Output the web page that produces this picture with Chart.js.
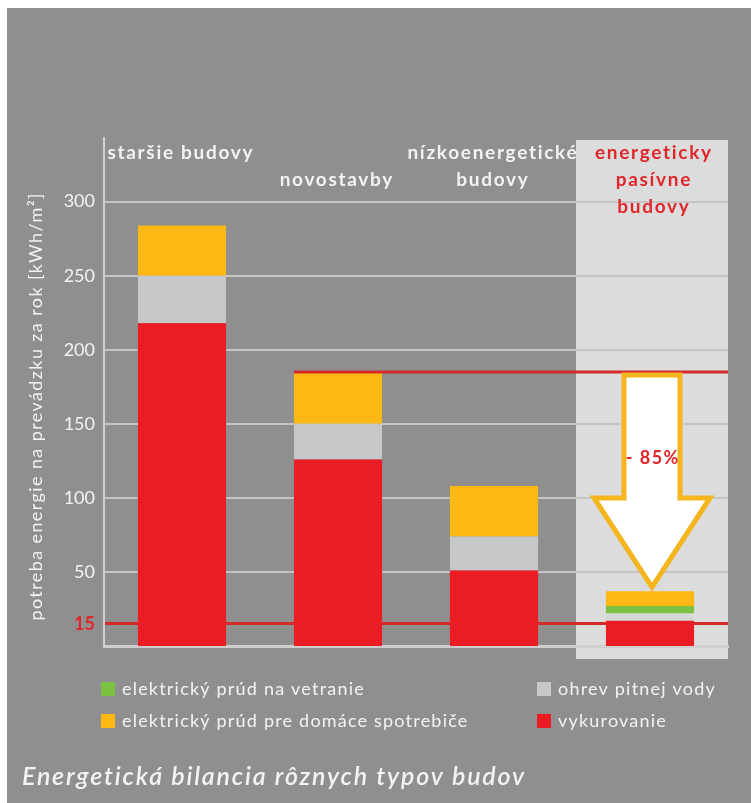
<!DOCTYPE html>
<html><head><meta charset="utf-8">
<script src="https://cdn.jsdelivr.net/npm/chart.js@4"></script>
<style>html,body{margin:0;padding:0;background:#fff}#wrap{width:751px;height:803px}</style>
</head><body><div id="wrap"><canvas id="c" width="751" height="803"></canvas></div>
<script>
// ---- data ----
const categories = [['staršie budovy'], ['', 'novostavby'], ['nízkoenergetické', 'budovy'], ['energeticky', 'pasívne', 'budovy']];
const seriesNames = ['vykurovanie', 'ohrev pitnej vody', 'elektrický prúd na vetranie', 'elektrický prúd pre domáce spotrebiče'];
const heating = [218, 126, 51, 17];
const hotWater = [32, 24, 23, 5];
const ventilation = [0, 0, 0, 5];
const appliances = [34, 35, 34, 10];
const yTicks = [15, 50, 100, 150, 200, 250, 300];
const newBuildLimit = 185;
const passiveLimit = 15;
const reductionLabel = '- 85%';
const yTitle = 'potreba energie na prevádzku za rok [kWh/m²]';
const chartTitle = 'Energetická bilancia rôznych typov budov';

// ---- styles ----
const RED = '#ec1c24', YEL = '#fdb813', GRY = '#c6c7c9', GRN = '#7cc142';
const BG = '#8f8f8f', PANEL = '#dcdcdc', TXT = '#f3f3f3';
const FONT = 'Lato, "Open Sans", sans-serif';

function spacedText(c, text, x, y, spacing) {
  c.letterSpacing = spacing + 'px';
  const align = c.textAlign;
  if (align === 'center') {
    const w = c.measureText(text).width - spacing;
    c.textAlign = 'left';
    c.fillText(text, x - w / 2, y);
    c.textAlign = 'center';
  } else {
    c.fillText(text, x, y);
  }
  c.letterSpacing = '0px';
}

const extras = {
  id: 'extras',
  beforeDraw(chart) {
    const c = chart.ctx, a = chart.chartArea;
    c.save();
    c.fillStyle = '#fff'; c.fillRect(0, 0, chart.width, chart.height);
    c.fillStyle = BG; c.fillRect(7, 8, chart.width - 7, chart.height - 8);
    const bar4 = chart.getDatasetMeta(0).data[3];
    c.fillStyle = PANEL;
    c.fillRect(bar4.x - 74, a.top + 2, a.right - (bar4.x - 74), a.bottom + 13 - (a.top + 2));
    c.restore();
  },
  afterDatasetsDraw(chart) {
    const c = chart.ctx, a = chart.chartArea, y = chart.scales.y;
    const bar2 = chart.getDatasetMeta(0).data[1];
    const bar4 = chart.getDatasetMeta(0).data[3];
    c.save();
    // limit line of new buildings
    c.strokeStyle = '#d42a2a'; c.lineWidth = 3;
    c.beginPath();
    const ly = y.getPixelForValue(newBuildLimit);
    c.moveTo(bar2.x - bar2.width / 2, ly); c.lineTo(a.right, ly); c.stroke();
    // arrow
    const total4 = heating[3] + hotWater[3] + ventilation[3] + appliances[3];
    const cx = bar4.x + 2, yTop = ly + 3, yBase = y.getPixelForValue(100), yTip = y.getPixelForValue(total4) - 4;
    c.beginPath();
    c.moveTo(cx - 28, yTop); c.lineTo(cx + 28, yTop); c.lineTo(cx + 28, yBase);
    c.lineTo(cx + 58, yBase); c.lineTo(cx, yTip); c.lineTo(cx - 58, yBase);
    c.lineTo(cx - 28, yBase); c.closePath();
    c.fillStyle = '#ffffff'; c.fill();
    c.strokeStyle = '#f5b51c'; c.lineWidth = 5; c.lineJoin = 'miter'; c.stroke();
    c.fillStyle = '#e0262b'; c.font = 'bold 18px ' + FONT;
    c.textAlign = 'center'; c.textBaseline = 'middle';
    spacedText(c, reductionLabel, cx, y.getPixelForValue(127), 1.5);
    // category labels
    c.font = 'bold 19px ' + FONT;
    categories.forEach((lines, i) => {
      const el = chart.getDatasetMeta(0).data[i];
      c.fillStyle = i === 3 ? '#e0262b' : TXT;
      lines.forEach((t, j) => { if (t) spacedText(c, t, el.x + (i === 3 ? 3 : -2), a.top + 15 + 27 * j, 1.7); });
    });
    // y title
    c.save();
    c.translate(36, (a.top + a.bottom) / 2 + 15);
    c.rotate(-Math.PI / 2);
    c.font = '18px ' + FONT; c.fillStyle = TXT;
    spacedText(c, yTitle, 0, 0, 1.4);
    c.restore();
    // legend
    const ds = chart.data.datasets;
    const order = [[2, 101, 689], [3, 101, 721], [1, 537, 689], [0, 537, 721]];
    c.font = '18px ' + FONT; c.textAlign = 'left';
    order.forEach(([k, x, yy]) => {
      const col = Array.isArray(ds[k].backgroundColor) ? ds[k].backgroundColor[0] : ds[k].backgroundColor;
      c.fillStyle = col; c.fillRect(x, yy - 7, 14, 14);
      c.fillStyle = TXT; spacedText(c, ds[k].label, x + 21, yy, 1.2);
    });
    // title
    c.font = 'italic 600 25px ' + FONT; c.fillStyle = TXT;
    spacedText(c, chartTitle, 22, 777, 1.8);
    c.restore();
  }
};

new Chart(document.getElementById('c'), {
  type: 'bar',
  data: {
    labels: categories.map(l => l.filter(Boolean).join(' ')),
    datasets: [
      { label: seriesNames[0], data: heating, backgroundColor: RED },
      { label: seriesNames[1], data: hotWater, backgroundColor: [GRY, GRY, GRY, '#d6d7d8'] },
      { label: seriesNames[2], data: ventilation, backgroundColor: GRN },
      { label: seriesNames[3], data: appliances, backgroundColor: YEL }
    ].map(d => Object.assign(d, { barPercentage: 0.565, categoryPercentage: 1, borderWidth: 0 }))
  },
  options: {
    responsive: false, animation: false,
    layout: { padding: { top: 138, bottom: 157, right: 23, left: 0 } },
    plugins: { legend: { display: false }, tooltip: { enabled: false } },
    scales: {
      x: {
        stacked: true,
        grid: { display: false, drawTicks: false },
        ticks: { display: false },
        border: { color: '#cfcfcf', width: 3 },
        afterFit: s => { s.height = 0; }
      },
      y: {
        stacked: true, min: 0, max: 343,
        afterFit: s => { s.width = 104; },
        afterBuildTicks: s => { s.ticks = yTicks.map(v => ({ value: v })); },
        grid: {
          drawTicks: false,
          color: c => (c.tick && c.tick.value === passiveLimit) ? '#d42a2a' : '#c4c4c4',
          lineWidth: c => (c.tick && c.tick.value === passiveLimit) ? 3 : 2
        },
        border: { color: '#d0d0d0', width: 2 },
        ticks: {
          padding: 9,
          color: c => c.tick.value === passiveLimit ? '#e0262b' : TXT,
          font: c => ({ family: FONT, size: 18, weight: c.tick && c.tick.value === passiveLimit ? 'bold' : 'normal' })
        }
      }
    }
  },
  plugins: [extras]
});
</script></body></html>
